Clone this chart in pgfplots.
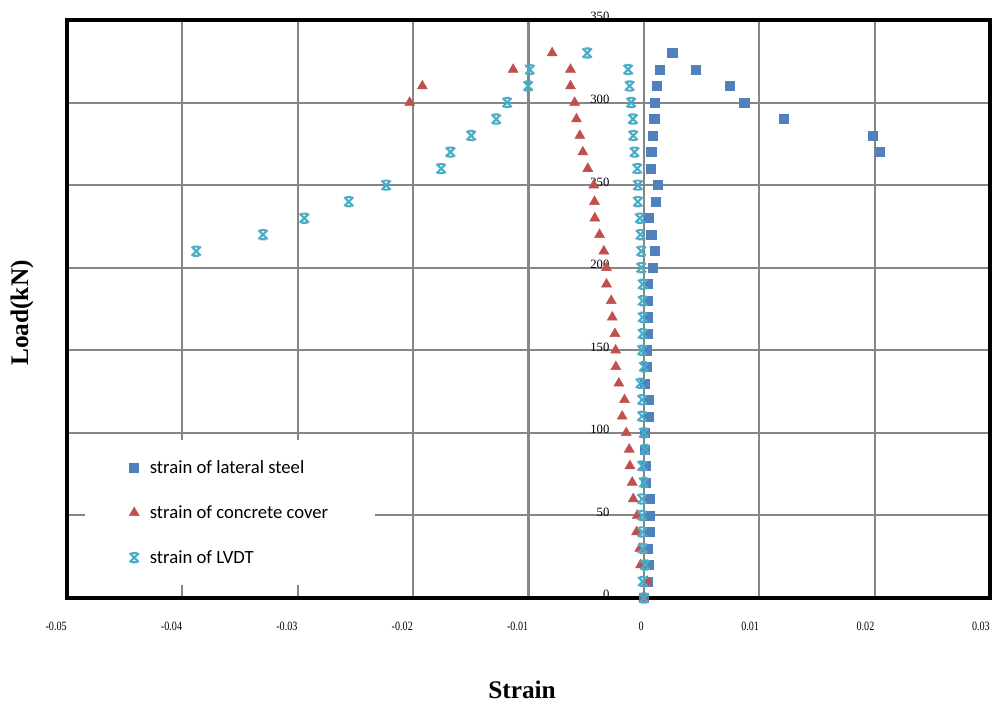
\documentclass[border=0pt]{standalone}
\usepackage{fontspec}
\setmainfont{Liberation Serif}
\newfontfamily\legfont{Carlito}
\usepackage{graphicx}
\usepackage{pgfplots}
\pgfplotsset{compat=1.18}
\definecolor{cblue}{HTML}{4F81BD}
\definecolor{cred}{HTML}{C0504D}
\definecolor{ccyan}{HTML}{4BACC6}
\definecolor{cgrid}{RGB}{134,134,134}
\pgfdeclareplotmark{lvdt}{%
  \pgfpathmoveto{\pgfqpoint{-\pgfplotmarksize}{-\pgfplotmarksize}}%
  \pgfpathlineto{\pgfqpoint{\pgfplotmarksize}{\pgfplotmarksize}}%
  \pgfpathmoveto{\pgfqpoint{-\pgfplotmarksize}{\pgfplotmarksize}}%
  \pgfpathlineto{\pgfqpoint{\pgfplotmarksize}{-\pgfplotmarksize}}%
  \pgfpathmoveto{\pgfqpoint{-0.6\pgfplotmarksize}{\pgfplotmarksize}}%
  \pgfpathlineto{\pgfqpoint{0.6\pgfplotmarksize}{\pgfplotmarksize}}%
  \pgfpathmoveto{\pgfqpoint{-0.6\pgfplotmarksize}{-\pgfplotmarksize}}%
  \pgfpathlineto{\pgfqpoint{0.6\pgfplotmarksize}{-\pgfplotmarksize}}%
  \pgfusepathqstroke}
\begin{document}
\begin{tikzpicture}
\begin{axis}[
  scale only axis,
  width=692.25pt, height=433.5pt,
  xmin=-0.05, xmax=0.03, ymin=0, ymax=350,
  clip=false,
  scaled x ticks=false, scaled y ticks=false,
  xtick={-0.05,-0.04,-0.03,-0.02,-0.01,0,0.01,0.02,0.03},
  xticklabels={\scalebox{0.8}[1]{-0.05},\scalebox{0.8}[1]{-0.04},\scalebox{0.8}[1]{-0.03},\scalebox{0.8}[1]{-0.02},\scalebox{0.8}[1]{-0.01},\scalebox{0.8}[1]{0},\scalebox{0.8}[1]{0.01},\scalebox{0.8}[1]{0.02},\scalebox{0.8}[1]{0.03}},
  ytick={0,50,100,150,200,250,300,350},
  /pgf/number format/assume math mode=true,
  major tick length=0pt,
  grid=major,
  major grid style={draw=cgrid, line width=1.6pt},
  axis line style={black, line width=2.6pt},
  xticklabel style={anchor=north east, inner sep=0pt, yshift=-18pt, font=\fontsize{9.5}{11}\selectfont},
  yticklabel style={anchor=south east, inner sep=0pt, xshift=407pt, yshift=-1pt, font=\fontsize{9.5}{11}\selectfont},
  xlabel={Strain},
  ylabel={Load(kN)},
  xlabel style={at={(rel axis cs:0.493,-0.159)}, anchor=center, font=\bfseries\fontsize{19}{22}\selectfont},
  ylabel style={at={(rel axis cs:-0.0488,0.493)}, anchor=center, font=\bfseries\fontsize{19}{22}\selectfont},
  legend style={at={(rel axis cs:0.0195,0.273)}, anchor=north west, draw=none, fill=white,
    inner xsep=33pt, inner ysep=13pt, row sep=18.5pt, column sep=6pt, font=\legfont\fontsize{14}{16}\selectfont},
  legend cell align=left,
]
\addplot[only marks, mark=square*, mark size=3.4pt, color=cblue] coordinates {
(0,0) (0.00035,10) (0.0004,20) (0.0003,30) (0.0005,40) (0.0005,50) (0.0005,60)
(0.0002,70) (0.00015,80) (0.0001,90) (0.00006,100) (0.0004,110) (0.00043,120)
(0.0001,130) (0.00023,140) (0.00023,150) (0.00035,160) (0.00035,170) (0.00035,180)
(0.00035,190) (0.00075,200) (0.00093,210) (0.00064,220) (0.00043,230) (0.00107,240)
(0.00122,250) (0.00058,260) (0.00064,270) (0.00075,280) (0.0009,290) (0.00096,300)
(0.00113,310) (0.00136,320) (0.00246,330) (0.00448,320) (0.00743,310) (0.0087,300)
(0.01214,290) (0.01986,280) (0.02044,270)
};
\addlegendentry{strain of lateral steel}
\addplot[only marks, mark=triangle*, mark size=4.3pt, color=cred] coordinates {
(0,0) (0.0003,10) (-0.00029,20) (-0.00035,30) (-0.00063,40) (-0.00057,50)
(-0.00092,60) (-0.00101,70) (-0.00121,80) (-0.00127,90) (-0.00153,100)
(-0.00188,110) (-0.00168,120) (-0.00217,130) (-0.00243,140) (-0.00245,150)
(-0.00251,160) (-0.00274,170) (-0.00283,180) (-0.00324,190) (-0.00324,200)
(-0.00347,210) (-0.00384,220) (-0.00425,230) (-0.00428,240) (-0.00434,250)
(-0.00486,260) (-0.00529,270) (-0.00555,280) (-0.00584,290) (-0.006,300)
(-0.00636,310) (-0.00636,320) (-0.00795,330) (-0.01133,320) (-0.0192,310) (-0.0203,300)
};
\addlegendentry{strain of concrete cover}
\addplot[only marks, mark=lvdt, mark size=3.4pt, color=ccyan, mark options={line width=1.6pt}] coordinates {
(0,0) (-0.0001,10) (0.0001,20) (-0.0001,30) (-0.00015,40) (-0.00015,50)
(-0.00015,60) (0,70) (-0.00015,80) (0.0001,90) (0,100) (-0.00015,110)
(-0.00015,120) (-0.00029,130) (0,140) (-0.00015,150) (-0.0001,160) (-0.0001,170)
(-0.0001,180) (-0.0001,190) (-0.00023,200) (-0.00023,210) (-0.00029,220)
(-0.00035,230) (-0.00052,240) (-0.00052,250) (-0.00057,260) (-0.00081,270)
(-0.00092,280) (-0.00095,290) (-0.0011,300) (-0.00124,310) (-0.00136,320)
(-0.00491,330) (-0.00989,320) (-0.01003,310) (-0.01185,300) (-0.0128,290)
(-0.01497,280) (-0.01677,270) (-0.01757,260) (-0.02234,250) (-0.02558,240)
(-0.02943,230) (-0.03301,220) (-0.0388,210)
};
\addlegendentry{strain of LVDT}
\coordinate (BL) at (rel axis cs:-0.07259,-0.18339);
\coordinate (TR) at (rel axis cs:1.00217,1.0346);
\end{axis}
\pgfresetboundingbox
\path[use as bounding box] (BL) rectangle (TR);
\end{tikzpicture}
\end{document}
